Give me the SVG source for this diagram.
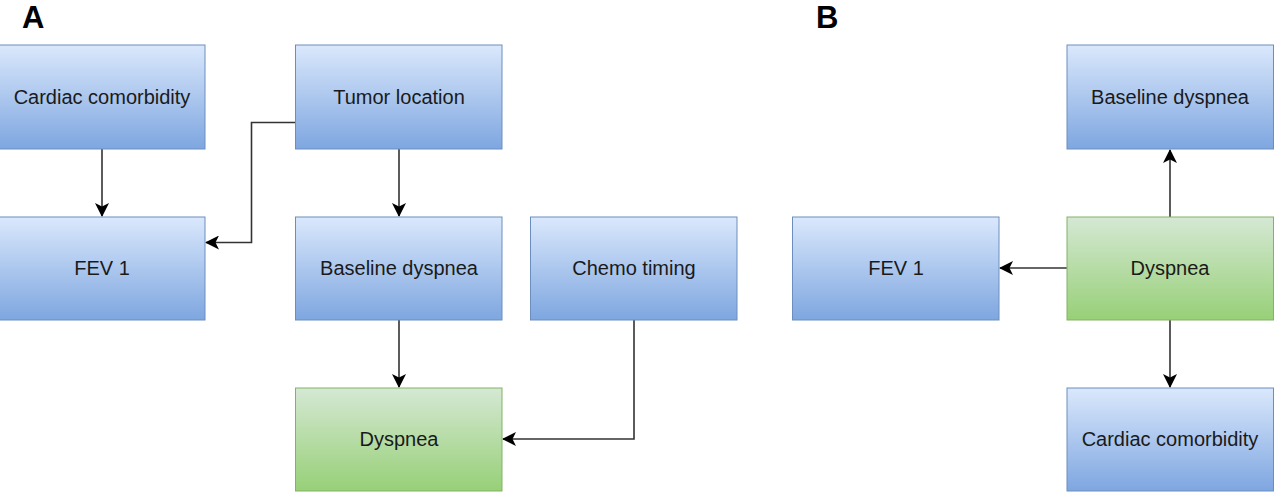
<svg xmlns="http://www.w3.org/2000/svg" width="1278" height="493" viewBox="0 0 1278 493">
<defs>
<linearGradient id="gBlue" x1="0" y1="0" x2="0" y2="1"><stop offset="0" stop-color="#dae8fc"/><stop offset="1" stop-color="#7ea6e0"/></linearGradient>
<linearGradient id="gGreen" x1="0" y1="0" x2="0" y2="1"><stop offset="0" stop-color="#d5e8d4"/><stop offset="1" stop-color="#97d077"/></linearGradient>
<marker id="arr" viewBox="0 0 14 14" refX="13" refY="7" markerWidth="14" markerHeight="14" markerUnits="userSpaceOnUse" orient="auto">
<path d="M0,0 L14,7 L0,14 L3.5,7 Z" fill="#000"/>
</marker>
</defs>
<style>
.blue{fill:url(#gBlue);stroke:#6c8ebf;stroke-width:1}
.green{fill:url(#gGreen);stroke:#82b366;stroke-width:1}
.lbl{font-family:"Liberation Sans",Arial,sans-serif;font-size:20px;fill:#1a1a1a;text-anchor:middle;dominant-baseline:central}
.panel{font-family:"Liberation Sans",Arial,sans-serif;font-size:31px;font-weight:bold;fill:#000}
.edge{fill:none;stroke:#333;stroke-width:1.6;marker-end:url(#arr)}
</style>
<rect width="1278" height="493" fill="#fff"/>
<text class="panel" x="22" y="28">A</text>
<text class="panel" x="816" y="28">B</text>
<g id="connectors">
<path class="edge" d="M102,149 L102,216"/>
<path class="edge" d="M295,122.5 L251.5,122.5 L251.5,242.5 L206,242.5"/>
<path class="edge" d="M399,149 L399,216"/>
<path class="edge" d="M399,320 L399,387"/>
<path class="edge" d="M634,320 L634,439 L503,439"/>
<path class="edge" d="M1170,217 L1170,150"/>
<path class="edge" d="M1067,268 L1000,268"/>
<path class="edge" d="M1170,320 L1170,387"/>
</g>
<g id="a-cardiac"><rect class="blue" x="-0.5" y="45" width="205.5" height="104"/><text class="lbl" x="102" y="97">Cardiac comorbidity</text></g>
<g id="a-tumor"><rect class="blue" x="295.5" y="45" width="206.5" height="104"/><text class="lbl" x="399" y="97">Tumor location</text></g>
<g id="a-fev1"><rect class="blue" x="-0.5" y="217" width="205.5" height="103"/><text class="lbl" x="102" y="268">FEV 1</text></g>
<g id="a-baseline"><rect class="blue" x="295.5" y="217" width="206.5" height="103"/><text class="lbl" x="399" y="268">Baseline dyspnea</text></g>
<g id="a-chemo"><rect class="blue" x="530.5" y="217" width="206.5" height="103"/><text class="lbl" x="634" y="268">Chemo timing</text></g>
<g id="a-dyspnea"><rect class="green" x="295.5" y="388" width="206.5" height="103"/><text class="lbl" x="399" y="439">Dyspnea</text></g>
<g id="b-baseline"><rect class="blue" x="1067" y="45" width="206.5" height="104"/><text class="lbl" x="1170" y="97">Baseline dyspnea</text></g>
<g id="b-fev1"><rect class="blue" x="792.5" y="217" width="206.5" height="103"/><text class="lbl" x="896" y="268">FEV 1</text></g>
<g id="b-dyspnea"><rect class="green" x="1067" y="217" width="206.5" height="103"/><text class="lbl" x="1170" y="268">Dyspnea</text></g>
<g id="b-cardiac"><rect class="blue" x="1067" y="388" width="206.5" height="103"/><text class="lbl" x="1170" y="439">Cardiac comorbidity</text></g>
</svg>
